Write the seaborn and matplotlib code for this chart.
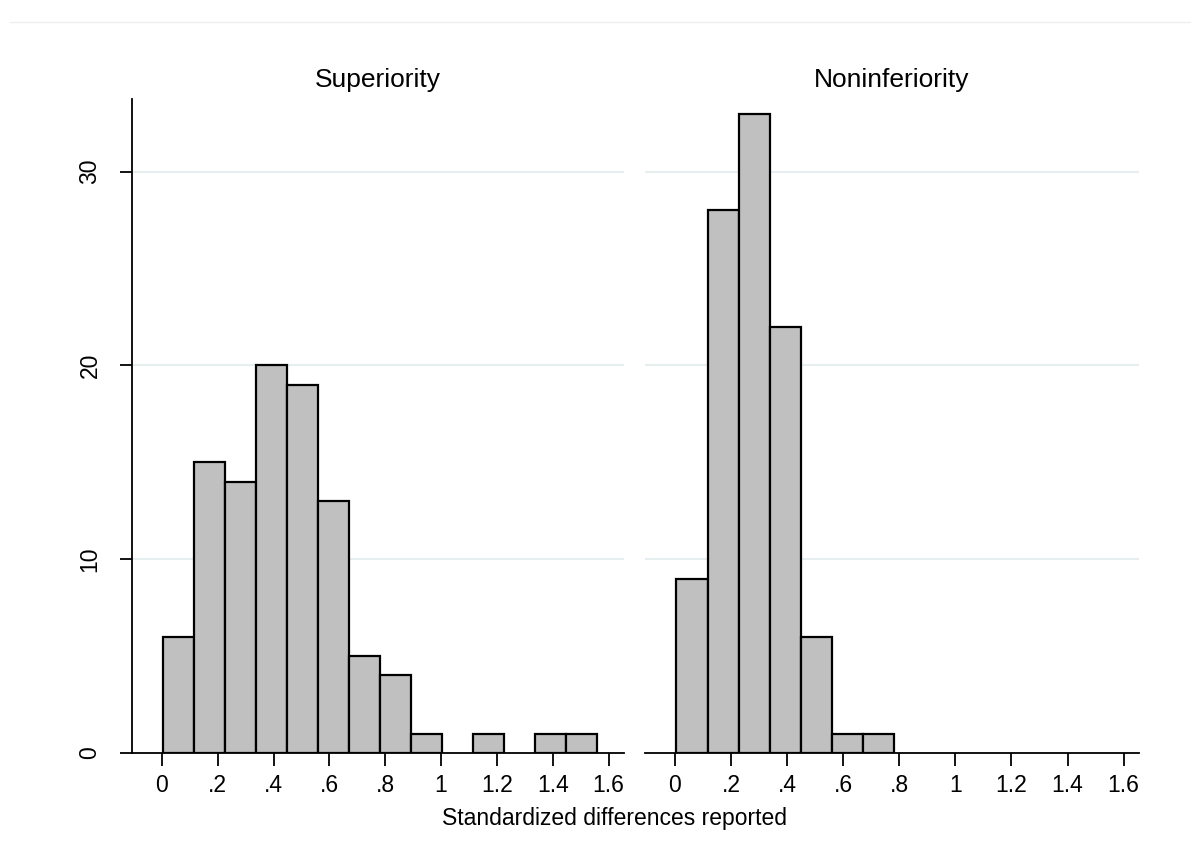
import numpy as np
import pandas as pd
import matplotlib
matplotlib.use("Agg")
import matplotlib.pyplot as plt
import seaborn as sns
from matplotlib.lines import Line2D

# ---- data ----
panels = ["Superiority", "Noninferiority"]
bin_start = 0.005
bin_width = 0.111
n_bins = 14
sup_counts = [6, 15, 14, 20, 19, 13, 5, 4, 1, 0, 1, 0, 1, 1]
non_counts = [9, 28, 33, 22, 6, 1, 1, 0, 0, 0, 0, 0, 0, 0]
x_ticks = [0, 0.2, 0.4, 0.6, 0.8, 1.0, 1.2, 1.4, 1.6]
x_ticklabels = ["0", ".2", ".4", ".6", ".8", "1", "1.2", "1.4", "1.6"]
y_ticks = [0, 10, 20, 30]
y_ticklabels = ["0", "10", "20", "30"]
x_label = "Standardized differences reported"

edges = [float(bin_start + bin_width * k) for k in range(n_bins + 1)]
mids = [(edges[k] + edges[k + 1]) / 2 for k in range(n_bins)]
df = pd.DataFrame({
    "panel": np.repeat(panels, n_bins),
    "x": mids * 2,
    "count": np.array(sup_counts + non_counts, dtype=float),
})

sns.set_theme(style="white")
plt.rcParams["font.family"] = ["Liberation Sans", "DejaVu Sans"]
plt.rcParams["text.color"] = "black"
plt.rcParams["xtick.color"] = "black"
plt.rcParams["ytick.color"] = "black"

fig = plt.figure(figsize=(12, 8.52), dpi=100)
fig.patch.set_facecolor("white")
bottom = 99 / 852
height = (753 - 99) / 852
ax_pos = [(132 / 1200, bottom, 492 / 1200, height),
          (645 / 1200, bottom, 494 / 1200, height)]
grid_color = "#E6EEF0"

for i, name in enumerate(panels):
    ax = fig.add_axes(ax_pos[i])
    sub = df[df["panel"] == name].reset_index(drop=True)
    sns.histplot(x=sub["x"], weights=sub["count"], bins=edges, ax=ax,
                 color="#C0C0C0", edgecolor="black", linewidth=1.6, alpha=1)
    for p in ax.patches:
        if p.get_height() == 0:
            p.set_visible(False)
    ax.set_xlim(-0.107, 1.655)
    ax.set_ylim(0, 33.75)
    for yv in y_ticks[1:]:
        ax.axhline(yv, color=grid_color, lw=1.5, zorder=0)
    ax.set_xticks(x_ticks)
    ax.set_xticklabels(x_ticklabels)
    ax.tick_params(axis="x", direction="out", length=9, width=1.3, color="black",
                   pad=6, bottom=True, labelsize=16.5, labelcolor="black")
    ax.set_xlabel("")
    ax.set_ylabel("")
    ax.set_title(name, fontsize=19, pad=9, color="black")
    for s in ["top", "right"]:
        ax.spines[s].set_visible(False)
    ax.spines["bottom"].set_color("black")
    ax.spines["bottom"].set_linewidth(1.3)
    if i == 0:
        ax.spines["left"].set_color("black")
        ax.spines["left"].set_linewidth(1.3)
        ax.set_yticks(y_ticks)
        ax.set_yticklabels(y_ticklabels, rotation=90, va="center")
        ax.tick_params(axis="y", direction="out", length=9, width=1.3,
                       color="black", pad=13, left=True, labelsize=16.5,
                       labelcolor="black")
    else:
        ax.spines["left"].set_visible(False)
        ax.set_yticks(y_ticks)
        ax.tick_params(axis="y", left=False, labelleft=False)
    ax.set_facecolor("white")

fig.text(614 / 1200, 1 - 818 / 852, x_label, ha="center", va="center",
         fontsize=16.5, color="black")
fig.add_artist(Line2D([10 / 1200, 1190 / 1200], [1 - 22 / 852, 1 - 22 / 852],
                      color="#EEEEEE", lw=1.0, transform=fig.transFigure))

fig.savefig("out.png", dpi=100, facecolor="white")
